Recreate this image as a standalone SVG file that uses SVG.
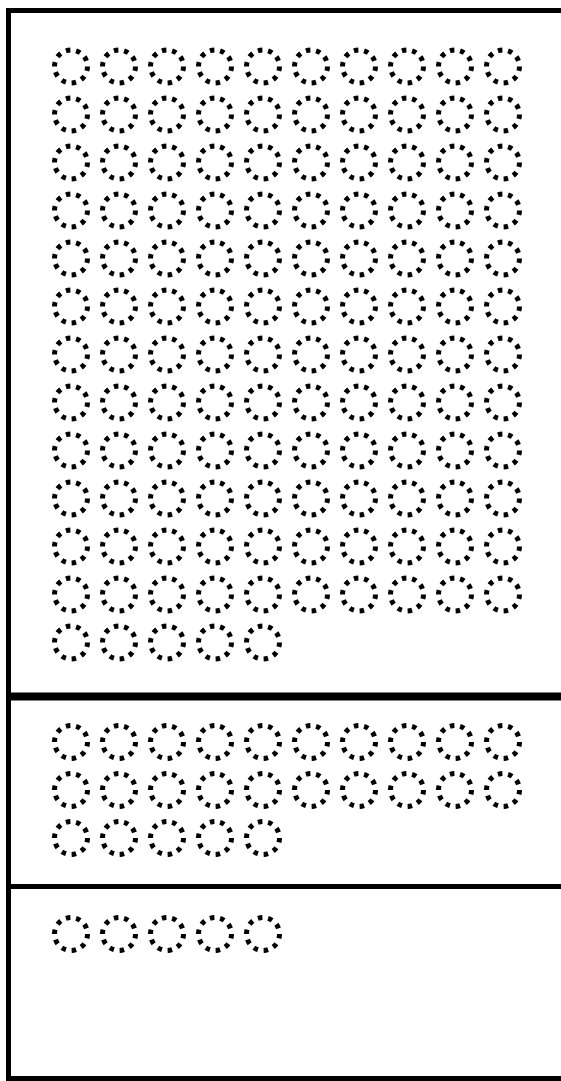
<svg xmlns="http://www.w3.org/2000/svg" xmlns:xlink="http://www.w3.org/1999/xlink" width="561" height="1081" viewBox="0 0 561 1081">
<style>
.ln{stroke:#000;fill:none;stroke-linecap:butt}
.dc{fill:none;stroke:#000;stroke-width:5;stroke-dasharray:4.5 5.8}
</style>
<defs>
<circle id="c" r="16.5" class="dc" transform="rotate(180)"/>
<g id="row10">
<use xlink:href="#c" x="0"/><use xlink:href="#c" x="48"/><use xlink:href="#c" x="96"/><use xlink:href="#c" x="144"/><use xlink:href="#c" x="192"/><use xlink:href="#c" x="240"/><use xlink:href="#c" x="288"/><use xlink:href="#c" x="336"/><use xlink:href="#c" x="384"/><use xlink:href="#c" x="432"/>
</g>
<g id="row5">
<use xlink:href="#c" x="0"/><use xlink:href="#c" x="48"/><use xlink:href="#c" x="96"/><use xlink:href="#c" x="144"/><use xlink:href="#c" x="192"/>
</g>
</defs>
<rect width="561" height="1081" fill="#fff"/>
<g id="frame">
<path class="ln" stroke-width="5" d="M561,10.5 H8.5 V1078.5 H561"/>
<path class="ln" stroke-width="8" d="M8.5,696.5 H561"/>
<path class="ln" stroke-width="5" d="M8.5,886.5 H561"/>
</g>
<g id="section1" transform="translate(71,0)">
<use xlink:href="#row10" y="66.5"/>
<use xlink:href="#row10" y="114.5"/>
<use xlink:href="#row10" y="162.5"/>
<use xlink:href="#row10" y="210.5"/>
<use xlink:href="#row10" y="258.5"/>
<use xlink:href="#row10" y="306.5"/>
<use xlink:href="#row10" y="354.5"/>
<use xlink:href="#row10" y="402.5"/>
<use xlink:href="#row10" y="450.5"/>
<use xlink:href="#row10" y="498.5"/>
<use xlink:href="#row10" y="546.5"/>
<use xlink:href="#row10" y="594.5"/>
<use xlink:href="#row5" y="642.5"/>
</g>
<g id="section2" transform="translate(71,0)">
<use xlink:href="#row10" y="742"/>
<use xlink:href="#row10" y="790"/>
<use xlink:href="#row5" y="838"/>
</g>
<g id="section3" transform="translate(71,0)">
<use xlink:href="#row5" y="934"/>
</g>
</svg>
